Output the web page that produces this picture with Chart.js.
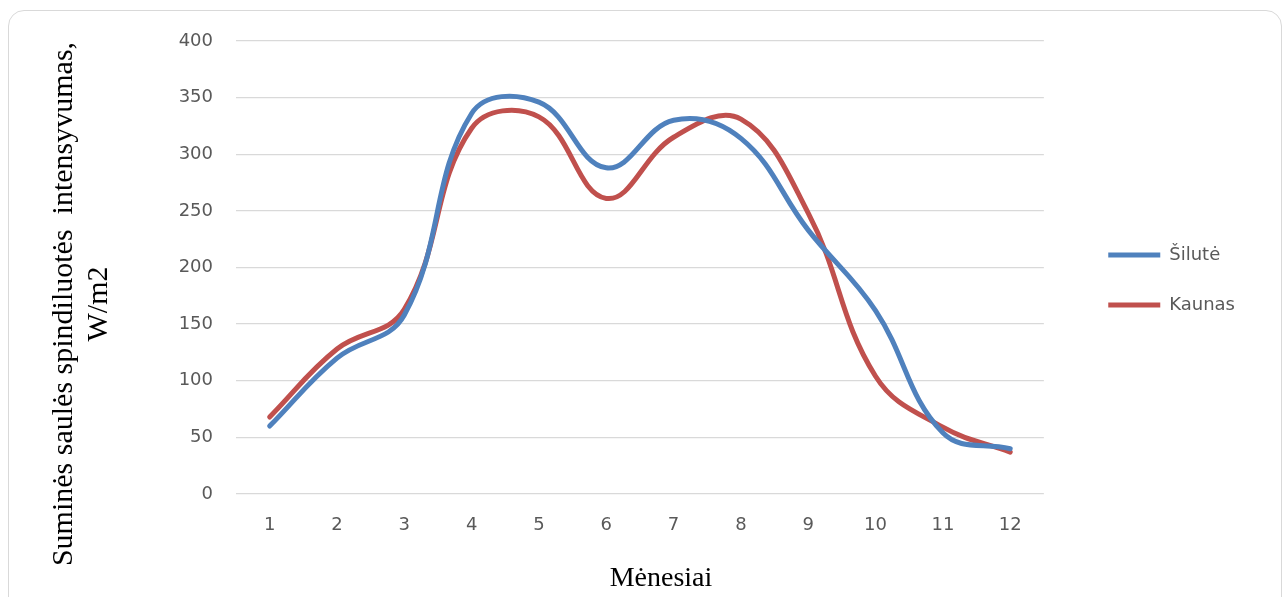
<!DOCTYPE html>
<html>
<head>
<meta charset="utf-8">
<script src="https://cdn.jsdelivr.net/npm/chart.js@4.4.1/dist/chart.umd.min.js"></script>
<style>
  html, body { margin: 0; padding: 0; background: #ffffff; width: 1283px; height: 597px; overflow: hidden; }
  #frame { position: absolute; left: 8px; top: 10px; width: 1274px; height: 610px; border: 1px solid #d9d9d9; border-radius: 16px; box-sizing: border-box; background: #fff; }
  #wrap { position: absolute; left: 0; top: 0; width: 1283px; height: 597px; }
</style>
</head>
<body>
<div id="frame"></div>
<div id="wrap"><canvas id="c" width="1283" height="597"></canvas></div>
<script>
// ---- data ----
const months = ['1', '2', '3', '4', '5', '6', '7', '8', '9', '10', '11', '12'];
const seriesNames = ['Šilutė', 'Kaunas'];
const silute = [60, 120, 158, 336, 346, 288, 330, 314, 233, 162, 54, 40];
const kaunas = [68, 128, 163, 323, 333, 261, 315, 331, 248, 104, 59, 37];
const yTickMin = 0;
const yTickMax = 400;
const yTickStep = 50;
const yTitleLines = ['Suminės saulės spindiluotės  intensyvumas,', 'W/m2'];
const xTitle = 'Mėnesiai';

const tickFont = { family: '"DejaVu Sans"', size: 18 };
const tickColor = '#595959';
const gridColor = '#d9d9d9';

const titlePlugin = {
  id: 'axisTitles',
  afterDraw(chart) {
    const ctx = chart.ctx;
    const yt = chart.options.scales.y.title.text;
    const xt = chart.options.scales.x.title.text;
    ctx.save();
    ctx.fillStyle = '#000000';
    ctx.font = '30px "Liberation Serif"';
    ctx.textAlign = 'center';
    ctx.textBaseline = 'alphabetic';
    ctx.translate(72, 304);
    ctx.rotate(-Math.PI / 2);
    yt.forEach((t, i) => ctx.fillText(t, 0, i * 35));
    ctx.restore();
    ctx.save();
    ctx.fillStyle = '#000000';
    ctx.font = '28px "Liberation Serif"';
    ctx.textAlign = 'center';
    ctx.textBaseline = 'alphabetic';
    ctx.fillText(xt, 661, 586);
    ctx.restore();
  }
};

const hiddenGap = (size, horizontal) => ({
  type: 'linear',
  position: horizontal ? 'top' : 'right',
  display: true,
  grid: { display: false, drawTicks: false },
  border: { display: false },
  ticks: { display: false },
  afterFit(s) { if (horizontal) { s.height = size; } else { s.width = size; } }
});

new Chart(document.getElementById('c'), {
  type: 'line',
  data: {
    labels: months,
    datasets: [
      { label: seriesNames[0], data: silute, xAxisID: 'x', yAxisID: 'y', borderColor: '#4f81bd', backgroundColor: '#4f81bd',
        borderWidth: 5, pointRadius: 0, tension: 0.4, borderCapStyle: 'round', borderJoinStyle: 'round', fill: false },
      { label: seriesNames[1], data: kaunas, xAxisID: 'x', yAxisID: 'y', borderColor: '#c0504d', backgroundColor: '#c0504d',
        borderWidth: 5, pointRadius: 0, tension: 0.4, borderCapStyle: 'round', borderJoinStyle: 'round', fill: false }
    ]
  },
  options: {
    responsive: false,
    animation: false,
    devicePixelRatio: 1,
    layout: { padding: { left: 0, top: 21, right: 38, bottom: 58 } },
    plugins: {
      tooltip: { enabled: false },
      legend: {
        position: 'right',
        align: 'center',
        labels: {
          usePointStyle: true,
          pointStyle: 'line',
          pointStyleWidth: 52,
          boxHeight: 18,
          padding: 32,
          color: tickColor,
          font: { family: '"DejaVu Sans"', size: 18 }
        }
      }
    },
    scales: {
      x: {
        type: 'category',
        offset: true,
        grid: { display: false, drawTicks: false },
        border: { display: false },
        ticks: { color: tickColor, font: tickFont, padding: 21, maxRotation: 0, autoSkip: false },
        title: { display: false, text: xTitle },
        afterFit(s) { s.height = 45; }
      },
      y: {
        type: 'linear',
        position: 'left',
        min: yTickMin,
        max: yTickMax,
        grid: { color: gridColor, lineWidth: 1.3, drawTicks: false },
        border: { display: false },
        ticks: { stepSize: yTickStep, color: tickColor, font: tickFont, padding: 23 },
        title: { display: false, text: yTitleLines },
        afterFit(s) { s.width = 236; }
      },
      gapRight: hiddenGap(32.4, false),
      gapTop: hiddenGap(20, true)
    }
  },
  plugins: [titlePlugin]
});
</script>
</body>
</html>
